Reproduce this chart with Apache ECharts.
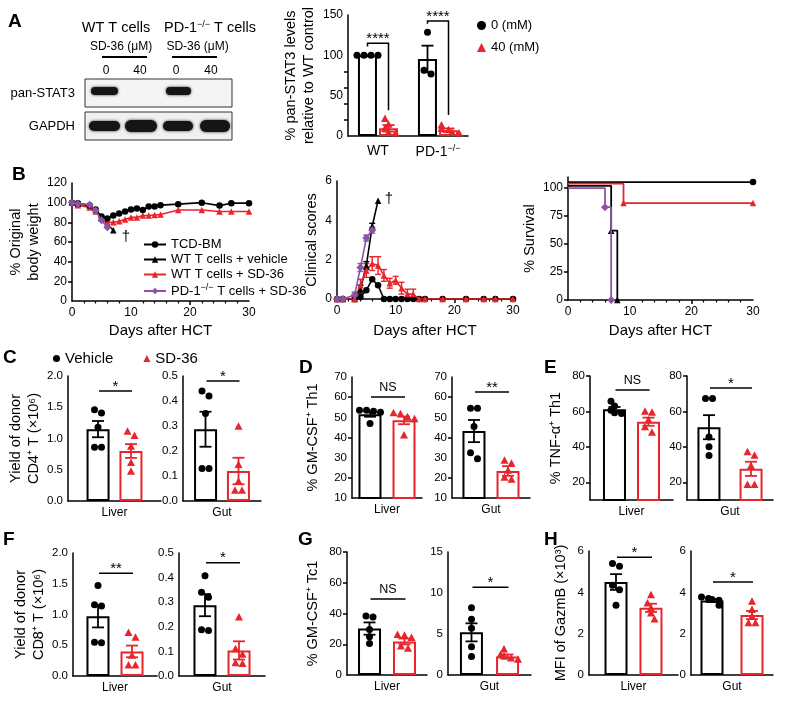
<!DOCTYPE html>
<html><head><meta charset="utf-8">
<script src="https://cdn.jsdelivr.net/npm/echarts@6/dist/echarts.min.js"></script>
<style>html,body{margin:0;padding:0;background:#fff}#c{width:787px;height:705px}</style>
</head><body><div id="c"></div>
<script>
// ================= DATA =================
// Panel A (bar chart)
const aCategories = ['WT', 'PD-1'];
const aMeans0 = [100, 95.5];
const aSems0 = [0, 16.5];
const aMeans40 = [9.5, 7.2];
const aSems40 = [4, 2.2];
const aPoints0 = [[100, 100, 100, 100], [128.5, 81.5, 77]];
const aPoints40 = [[21, 14, 9, 4, 3], [13, 9, 7, 4, 3]];
const aSig = [['****', 115, 111, 32], ['****', 142.5, 139, 26]]; // label, top, left end, right end
// Panel B
const bDays = [0, 1, 3, 4, 5, 6, 7, 8, 9, 10, 11, 12, 13, 14, 15, 18, 22, 25, 27, 30];
const bDaysVehicle = [0, 1, 3, 4, 5, 6, 7];
const bDaysPD1 = [0, 1, 3, 4, 5, 6];
const bWeightTCD = [100, 99.5, 97, 93, 86, 84, 87, 89, 91, 93, 94, 92.5, 96, 96, 97.5, 98.5, 100, 97, 99.5, 99.5];
const bWeightSD36 = [100, 97.5, 95, 91, 84, 80, 80, 81, 83, 85, 85, 87, 87, 87.5, 88, 92.5, 92.5, 91, 91, 91];
const bWeightVehicle = [100, 99, 97, 93, 85, 78, 72];
const bWeightPD1 = [100, 99, 98, 92, 82, 75];
const bScoreTCD = [0, 0, 0, 0.1, 0.45, 1.0, 0.7, 0, 0, 0, 0, 0, 0, 0, 0, 0, 0, 0, 0, 0];
const bScoreSD36 = [0, 0, 0, 0.7, 1.45, 1.8, 1.7, 1.2, 0.8, 0.95, 0.55, 0.25, 0.25, 0, 0, 0, 0, 0, 0, 0];
const bScoreSD36Sem = [0, 0, 0, 0.3, 0.35, 0.35, 0.45, 0.3, 0.25, 0.2, 0.3, 0.25, 0.25, 0, 0, 0, 0, 0, 0, 0];
const bScoreVehicle = [0, 0, 0, 0.5, 1.7, 3.7, 5.0];
const bScoreVehicleSem = [0, 0, 0, 0.2, 0.2, 0.15, 0];
const bScorePD1 = [0, 0, 0.2, 1.6, 3.1, 3.5];
const bScorePD1Sem = [0, 0, 0.15, 0.2, 0.15, 0.15];
const bSurvTCD = [[0, 105.5], [30, 105.5]];
const bSurvSD36 = [[0, 104], [9, 86.7], [30, 86.7]];
const bSurvVehicle = [[0, 102], [7, 62], [8, 0]];
const bSurvPD1 = [[0, 100], [6, 83], [7, 0]];
// Panels C-H: points [vehicle], [SD-36]; means; SEMs; significance [label, y]
const cLiverVehicle = [1.46, 1.41, 1.18, 0.86, 0.86];
const cLiverSD36 = [1.11, 1.04, 0.87, 0.61, 0.47];
const cLiverMeans = [1.15, 0.80];
const cLiverSems = [0.13, 0.11];
const cLiverSig = ['*', 1.76];
const cGutVehicle = [0.44, 0.42, 0.35, 0.13, 0.13];
const cGutSD36 = [0.297, 0.144, 0.077, 0.041, 0.041];
const cGutMeans = [0.287, 0.12];
const cGutSems = [0.07, 0.053];
const cGutSig = ['*', 0.48];
const dLiverVehicle = [53.5, 53.5, 53, 52.5, 47];
const dLiverSD36 = [52, 51.5, 50, 49, 41];
const dLiverMeans = [51.5, 48.5];
const dLiverSems = [1.2, 1.9];
const dLiverSig = ['NS', 60.1];
const dGutVehicle = [54.5, 54.5, 45.5, 32.5, 29.5];
const dGutSD36 = [28.5, 27, 23.5, 20, 19];
const dGutMeans = [43.2, 23.4];
const dGutSems = [5.5, 2.4];
const dGutSig = ['**', 62.6];
const eLiverVehicle = [65.8, 63, 60.7, 59.2, 58.8];
const eLiverSD36 = [59.8, 59.3, 55, 51, 48];
const eLiverMeans = [61.2, 54.2];
const eLiverSems = [1.3, 2.3];
const eLiverSig = ['NS', 72.1];
const eGutVehicle = [67.3, 67.3, 45.6, 40, 35.1];
const eGutSD36 = [37, 35, 29, 18.5, 18.5];
const eGutMeans = [51.1, 27.6];
const eGutSems = [6.8, 4];
const eGutSig = ['*', 73.2];
const fLiverVehicle = [1.47, 1.16, 1.14, 0.55, 0.54];
const fLiverSD36 = [0.7, 0.62, 0.33, 0.17, 0.17];
const fLiverMeans = [0.97, 0.40];
const fLiverSems = [0.18, 0.095];
const fLiverSig = ['**', 1.67];
const fGutVehicle = [0.408, 0.34, 0.32, 0.188, 0.185];
const fGutSD36 = [0.238, 0.109, 0.086, 0.052, 0.049];
const fGutMeans = [0.288, 0.104];
const fGutSems = [0.045, 0.037];
const fGutSig = ['*', 0.46];
const gLiverVehicle = [38.3, 37.8, 29.6, 24.9, 20.5];
const gLiverSD36 = [26, 25.5, 24, 18.5, 17];
const gLiverMeans = [30.2, 21.8];
const gLiverSems = [4, 1.9];
const gLiverSig = ['NS', 49.4];
const gGutVehicle = [8.2, 6.8, 5.7, 3.45, 2.25];
const gGutSD36 = [3.1, 2.45, 2.25, 2.0, 1.85];
const gGutMeans = [5.2, 2.25];
const gGutSems = [1.1, 0.25];
const gGutSig = ['*', 10.7];
const hLiverVehicle = [5.39, 5.26, 4.34, 4.13, 3.38];
const hLiverSD36 = [3.86, 3.46, 3.22, 2.98, 2.69];
const hLiverMeans = [4.5, 3.25];
const hLiverSems = [0.38, 0.2];
const hLiverSig = ['*', 5.7];
const hGutVehicle = [3.78, 3.7, 3.65, 3.62, 3.38];
const hGutSD36 = [3.54, 3.14, 2.82, 2.5, 2.5];
const hGutMeans = [3.6, 2.9];
const hGutSems = [0.07, 0.2];
const hGutSig = ['*', 4.5];

// ================= STYLE / LAYOUT =================
const FONT = '"Liberation Sans", Arial, Helvetica, sans-serif';
const RED = '#e8252c';
const PURPLE = '#8e52a4';
const SUP = {fontSize: 9, fontFamily: FONT, color: '#000', padding: [0, 0, 7, 0]};

function deep(a, b) {
  const o = Object.assign({}, a);
  for (const k in b) {
    const v = b[k];
    if (v && typeof v === 'object' && !Array.isArray(v) && a[k] && typeof a[k] === 'object' && !Array.isArray(a[k])) o[k] = deep(a[k], v);
    else o[k] = v;
  }
  return o;
}
const AX = {
  axisLine: {show: true, onZero: false, lineStyle: {color: '#000', width: 1.5}},
  axisTick: {show: true, inside: false, length: 4, lineStyle: {color: '#000', width: 1.5}},
  axisLabel: {color: '#000', fontSize: 12, fontFamily: FONT, margin: 5},
  splitLine: {show: false},
  nameTextStyle: {color: '#000', fontSize: 14.5, fontFamily: FONT, lineHeight: 18}
};

const grid = [], xAxis = [], yAxis = [], series = [];

function dotSeries(gi, data, sep) {
  return {
    type: 'custom', xAxisIndex: gi, yAxisIndex: gi, silent: true, z: 4, data,
    renderItem(params, api) {
      const i = params.dataIndex, d = data[i];
      const base = api.coord([d[0], d[1]]);
      const sib = [];
      data.forEach((e, j) => {
        if (e[0] === d[0] && e[2] === d[2] && Math.abs(api.coord([e[0], e[1]])[1] - base[1]) < 6.5) sib.push(j);
      });
      const r = sib.indexOf(i), n = sib.length;
      const x = base[0] + (d[2] ? 1 : -1) * sep / 2 + (r - (n - 1) / 2) * 7;
      const y = base[1];
      if (d[2] === 0) return {type: 'circle', shape: {cx: x, cy: y, r: 3.5}, style: {fill: '#000'}};
      return {type: 'polygon', shape: {points: [[x, y - 4.5], [x + 4, y + 3], [x - 4, y + 3]]}, style: {fill: RED}};
    }
  };
}
function errSeries(gi, data, sep) {
  return {
    type: 'custom', xAxisIndex: gi, yAxisIndex: gi, silent: true, z: 5, data,
    renderItem(params, api) {
      const c = api.value(0), m = api.value(1), s = api.value(2), g = api.value(3);
      const lo = api.coord([c, m - s]), hi = api.coord([c, m + s]);
      const x = lo[0] + (g ? 1 : -1) * sep / 2;
      const st = {stroke: g ? RED : '#000', lineWidth: 1.8};
      return {type: 'group', children: [
        {type: 'line', shape: {x1: x, y1: lo[1], x2: x, y2: hi[1]}, style: st},
        {type: 'line', shape: {x1: x - 6, y1: lo[1], x2: x + 6, y2: lo[1]}, style: st},
        {type: 'line', shape: {x1: x - 6, y1: hi[1], x2: x + 6, y2: hi[1]}, style: st}
      ]};
    }
  };
}

// ---- Panel A
(function () {
  const gi = grid.length, bw = 19, sep = 21;
  grid.push({left: 348, top: 15, width: 120, height: 121});
  xAxis.push(deep(AX, {type: 'category', gridIndex: gi, data: aCategories, axisTick: {show: false},
    axisLabel: {fontSize: 14, margin: 8, interval: 0, formatter: v => v === 'PD-1' ? 'PD-1{s|−/−}' : v, rich: {s: SUP}}}));
  yAxis.push(deep(AX, {type: 'value', gridIndex: gi, min: 0, max: 150, interval: 50,
    name: '% pan-STAT3 levels\nrelative to WT control', nameLocation: 'middle', nameRotate: 90, nameGap: 30}));
  const gap = Math.round((sep / bw - 1) * 100) + '%';
  series.push({type: 'bar', name: '0 (mM)', xAxisIndex: gi, yAxisIndex: gi, data: aMeans0, barWidth: bw, barGap: gap, silent: true, z: 2,
    itemStyle: {color: 'rgba(255,255,255,0)', borderColor: '#000', borderWidth: 2}});
  series.push({type: 'bar', name: '40 (mM)', xAxisIndex: gi, yAxisIndex: gi, data: aMeans40, barWidth: bw, silent: true, z: 2,
    itemStyle: {color: 'rgba(255,255,255,0)', borderColor: RED, borderWidth: 2}});
  const dots = [];
  aPoints0.forEach((arr, c) => arr.forEach(v => dots.push([c, v, 0])));
  aPoints40.forEach((arr, c) => arr.forEach(v => dots.push([c, v, 1])));
  series.push(dotSeries(gi, dots, sep));
  const errs = [];
  aMeans0.forEach((m, c) => errs.push([c, m, aSems0[c], 0]));
  aMeans40.forEach((m, c) => errs.push([c, m, aSems40[c], 1]));
  series.push(errSeries(gi, errs, sep));
  series.push({type: 'custom', xAxisIndex: gi, yAxisIndex: gi, silent: true, z: 6,
    data: aSig.map((s, c) => [c, s[1], s[2], s[3]]),
    renderItem(params, api) {
      const c = api.value(0);
      const top = api.coord([c, api.value(1)]), l = api.coord([c, api.value(2)]), r = api.coord([c, api.value(3)]);
      const x1 = top[0] - sep / 2, x2 = top[0] + sep / 2;
      return {type: 'group', children: [
        {type: 'polyline', shape: {points: [[x1, l[1]], [x1, top[1]], [x2, top[1]], [x2, r[1]]]}, style: {stroke: '#000', lineWidth: 1.5, fill: null}},
        {type: 'text', style: {text: aSig[params.dataIndex][0], x: top[0], y: top[1] + 3, align: 'center', verticalAlign: 'bottom', fontSize: 15, fontFamily: FONT, fill: '#000'}}
      ]};
    }});
})();

// ---- Panel B
function lineS(name, gi, xs, ys, color, symbol, extra) {
  return Object.assign({type: 'line', name, xAxisIndex: gi, yAxisIndex: gi, data: xs.map((x, i) => [x, ys[i]]),
    symbol, symbolSize: symbol === 'diamond' ? 8 : 6.5, showAllSymbol: true, silent: true,
    lineStyle: {color, width: 1.6}, itemStyle: {color}}, extra || {});
}
function lineErr(gi, xs, ms, ss, color) {
  const data = [];
  xs.forEach((x, i) => { if (ss[i] > 0) data.push([x, ms[i] - ss[i], ms[i] + ss[i]]); });
  return {type: 'custom', xAxisIndex: gi, yAxisIndex: gi, silent: true, z: 3, data,
    renderItem(params, api) {
      const lo = api.coord([api.value(0), api.value(1)]), hi = api.coord([api.value(0), api.value(2)]);
      const st = {stroke: color, lineWidth: 1.4};
      return {type: 'group', children: [
        {type: 'line', shape: {x1: lo[0], y1: lo[1], x2: hi[0], y2: hi[1]}, style: st},
        {type: 'line', shape: {x1: lo[0] - 3, y1: lo[1], x2: lo[0] + 3, y2: lo[1]}, style: st},
        {type: 'line', shape: {x1: hi[0] - 3, y1: hi[1], x2: hi[0] + 3, y2: hi[1]}, style: st}
      ]};
    }};
}
const N1 = 'TCD-BM', N2 = 'WT T cells + vehicle', N3 = 'WT T cells + SD-36', N4 = 'PD-1-/- T cells + SD-36';
function bX(gi, gap) {
  return deep(AX, {type: 'value', gridIndex: gi, min: 0, max: 30, interval: 10,
    minorTick: {show: true, splitNumber: 5, length: 2.5, lineStyle: {color: '#000', width: 1.2}},
    axisLabel: {margin: 6}, name: 'Days after HCT', nameLocation: 'middle', nameGap: gap,
    nameTextStyle: {fontSize: 15}});
}
(function () {
  // weight
  let gi = grid.length;
  grid.push({left: 72, top: 183, width: 177, height: 118});
  xAxis.push(bX(gi, 21));
  yAxis.push(deep(AX, {type: 'value', gridIndex: gi, min: 0, max: 120, interval: 20,
    name: '% Original\nbody weight', nameLocation: 'middle', nameRotate: 90, nameGap: 25}));
  series.push(lineS(N1, gi, bDays, bWeightTCD, '#000', 'circle', {z: 4}));
  series.push(lineS(N2, gi, bDaysVehicle, bWeightVehicle, '#000', 'triangle', {z: 3}));
  series.push(lineS(N3, gi, bDays, bWeightSD36, RED, 'triangle', {z: 3}));
  series.push(lineS(N4, gi, bDaysPD1, bWeightPD1, PURPLE, 'diamond', {z: 5}));
  // clinical scores
  gi = grid.length;
  grid.push({left: 337, top: 181, width: 176, height: 118});
  xAxis.push(bX(gi, 23));
  yAxis.push(deep(AX, {type: 'value', gridIndex: gi, min: 0, max: 6, interval: 2,
    name: 'Clinical scores', nameLocation: 'middle', nameRotate: 90, nameGap: 16}));
  series.push(lineS(N1, gi, bDays, bScoreTCD, '#000', 'circle', {z: 3}));
  series.push(lineS(N2, gi, bDaysVehicle, bScoreVehicle, '#000', 'triangle', {z: 4}));
  series.push(lineS(N3, gi, bDays, bScoreSD36, RED, 'triangle', {z: 4}));
  series.push(lineS(N4, gi, bDaysPD1, bScorePD1, PURPLE, 'diamond', {z: 5}));
  series.push(lineErr(gi, bDays, bScoreSD36, bScoreSD36Sem, RED));
  series.push(lineErr(gi, bDaysVehicle, bScoreVehicle, bScoreVehicleSem, '#000'));
  series.push(lineErr(gi, bDaysPD1, bScorePD1, bScorePD1Sem, PURPLE));
  // survival
  gi = grid.length;
  grid.push({left: 568, top: 177, width: 185, height: 123});
  xAxis.push(bX(gi, 22));
  yAxis.push(deep(AX, {type: 'value', gridIndex: gi, min: 0, max: 110,
    axisLabel: {customValues: [0, 25, 50, 75, 100]}, axisTick: {customValues: [0, 25, 50, 75, 100]},
    name: '% Survival', nameLocation: 'middle', nameRotate: 90, nameGap: 25}));
  const sym = s => (v, p) => p.dataIndex === 0 ? 'none' : s;
  const surv = (name, d, color, s, z) => ({type: 'line', name, xAxisIndex: gi, yAxisIndex: gi, data: d, step: 'end',
    symbol: sym(s), symbolSize: s === 'diamond' ? 8 : 6.5, showAllSymbol: true, silent: true, z,
    lineStyle: {color, width: 1.8}, itemStyle: {color}});
  series.push(surv(N1, bSurvTCD, '#000', 'circle', 3));
  series.push(surv(N3, bSurvSD36, RED, 'triangle', 3));
  series.push(surv(N2, bSurvVehicle, '#000', 'triangle', 4));
  series.push(surv(N4, bSurvPD1, PURPLE, 'diamond', 5));
})();

// ---- Panels C-H
const barLayouts = [
  {cat: 'Liver', left: 68, top: 376, width: 93, height: 125, min: 0, max: 2, interval: 0.5, dec: 1, sep: 33, name: 'Yield of donor\nCD4⁺ T (×10⁶)', nameGap: 22, veh: cLiverVehicle, sd: cLiverSD36, means: cLiverMeans, sems: cLiverSems, sig: cLiverSig},
  {cat: 'Gut', left: 183, top: 376, width: 78, height: 125, min: 0, max: 0.5, interval: 0.1, dec: 1, sep: 33, veh: cGutVehicle, sd: cGutSD36, means: cGutMeans, sems: cGutSems, sig: cGutSig},
  {cat: 'Liver', left: 352, top: 377, width: 70, height: 121, min: 10, max: 70, interval: 10, dec: 0, sep: 34, name: '% GM-CSF⁺ Th1', nameGap: 30, veh: dLiverVehicle, sd: dLiverSD36, means: dLiverMeans, sems: dLiverSems, sig: dLiverSig},
  {cat: 'Gut', left: 452, top: 377, width: 78, height: 121, min: 10, max: 70, interval: 10, dec: 0, sep: 34, veh: dGutVehicle, sd: dGutSD36, means: dGutMeans, sems: dGutSems, sig: dGutSig},
  {cat: 'Liver', left: 590, top: 376, width: 83, height: 124, min: 10, max: 80, ticks: [20, 40, 60, 80], dec: 0, sep: 34, name: '% TNF-α⁺ Th1', nameGap: 25, veh: eLiverVehicle, sd: eLiverSD36, means: eLiverMeans, sems: eLiverSems, sig: eLiverSig},
  {cat: 'Gut', left: 687, top: 376, width: 86, height: 124, min: 10, max: 80, ticks: [20, 40, 60, 80], dec: 0, sep: 42, veh: eGutVehicle, sd: eGutSD36, means: eGutMeans, sems: eGutSems, sig: eGutSig},
  {cat: 'Liver', left: 73, top: 553, width: 84, height: 123, min: 0, max: 2, interval: 0.5, dec: 1, sep: 34, name: 'Yield of donor\nCD8⁺ T (×10⁶)', nameGap: 25, veh: fLiverVehicle, sd: fLiverSD36, means: fLiverMeans, sems: fLiverSems, sig: fLiverSig},
  {cat: 'Gut', left: 179, top: 553, width: 86, height: 123, min: 0, max: 0.5, interval: 0.1, dec: 1, sep: 34, veh: fGutVehicle, sd: fGutSD36, means: fGutMeans, sems: fGutSems, sig: fGutSig},
  {cat: 'Liver', left: 347, top: 552, width: 80, height: 123, min: 0, max: 80, interval: 20, dec: 0, sep: 35, name: '% GM-CSF⁺ Tc1', nameGap: 25, veh: gLiverVehicle, sd: gLiverSD36, means: gLiverMeans, sems: gLiverSems, sig: gLiverSig},
  {cat: 'Gut', left: 448, top: 552, width: 83, height: 123, min: 0, max: 15, interval: 5, dec: 0, sep: 36, veh: gGutVehicle, sd: gGutSD36, means: gGutMeans, sems: gGutSems, sig: gGutSig},
  {cat: 'Liver', left: 589, top: 551, width: 89, height: 124, min: 0, max: 6, interval: 2, dec: 0, sep: 35, name: 'MFI of GazmB (×10³)', nameGap: 19, veh: hLiverVehicle, sd: hLiverSD36, means: hLiverMeans, sems: hLiverSems, sig: hLiverSig},
  {cat: 'Gut', left: 691, top: 551, width: 82, height: 124, min: 0, max: 6, interval: 2, dec: 0, sep: 40, veh: hGutVehicle, sd: hGutSD36, means: hGutMeans, sems: hGutSems, sig: hGutSig}
];
barLayouts.forEach(L => {
  const gi = grid.length, bw = 23;
  grid.push({left: L.left, top: L.top, width: L.width, height: L.height});
  xAxis.push(deep(AX, {type: 'category', gridIndex: gi, data: [L.cat], axisTick: {show: false}, axisLabel: {fontSize: 12, margin: 6, interval: 0}}));
  const y = deep(AX, {type: 'value', gridIndex: gi, min: L.min, max: L.max, axisLabel: {fontSize: 11.5, formatter: v => v.toFixed(L.dec)}});
  if (L.ticks) { y.axisLabel.customValues = L.ticks; y.axisTick.customValues = L.ticks; } else y.interval = L.interval;
  if (L.name) Object.assign(y, {name: L.name, nameLocation: 'middle', nameRotate: 90, nameGap: L.nameGap});
  yAxis.push(y);
  const gap = Math.round((L.sep / bw - 1) * 100) + '%';
  series.push({type: 'bar', name: 'Vehicle', xAxisIndex: gi, yAxisIndex: gi, data: [L.means[0]], barWidth: bw, barGap: gap, silent: true, z: 2,
    itemStyle: {color: 'rgba(255,255,255,0)', borderColor: '#000', borderWidth: 2}});
  series.push({type: 'bar', name: 'SD-36', xAxisIndex: gi, yAxisIndex: gi, data: [L.means[1]], barWidth: bw, silent: true, z: 2,
    itemStyle: {color: 'rgba(255,255,255,0)', borderColor: RED, borderWidth: 2}});
  series.push(dotSeries(gi, L.veh.map(v => [0, v, 0]).concat(L.sd.map(v => [0, v, 1])), L.sep));
  series.push(errSeries(gi, [[0, L.means[0], L.sems[0], 0], [0, L.means[1], L.sems[1], 1]], L.sep));
  series.push({type: 'custom', xAxisIndex: gi, yAxisIndex: gi, silent: true, z: 6, data: [[0, L.sig[1]]],
    renderItem(params, api) {
      const p = api.coord([0, api.value(1)]);
      const x1 = p[0] - L.sep / 2 + 1, x2 = p[0] + L.sep / 2 + 1;
      const ns = L.sig[0] === 'NS';
      return {type: 'group', children: [
        {type: 'line', shape: {x1, y1: p[1], x2, y2: p[1]}, style: {stroke: '#000', lineWidth: 1.5}},
        {type: 'text', style: {text: L.sig[0], x: (x1 + x2) / 2, y: p[1] - (ns ? 3 : -3), align: 'center', verticalAlign: 'bottom',
          fontSize: ns ? 12.5 : 15, fontFamily: FONT, fill: '#000'}}
      ]};
    }});
});

// ---- Graphic: panel letters, blot, daggers
const letter = (t, x, y) => ({type: 'text', x, y, style: {text: t, fontSize: 19, fontWeight: 'bold', fontFamily: FONT, fill: '#000'}, silent: true});
const txt = (t, x, y, size, align, extra) => ({type: 'text', x, y, silent: true,
  style: Object.assign({text: t, fontSize: size, fontFamily: FONT, fill: '#000', align: align || 'center', verticalAlign: 'middle', rich: {s: SUP}}, extra || {})});
const band = (x, y, w, h) => ({type: 'rect', silent: true, shape: {x, y, width: w, height: h, r: h / 2},
  style: {fill: '#151515', shadowBlur: 3, shadowColor: 'rgba(0,0,0,0.8)'}});
const graphic = [
  letter('A', 8, 12), letter('B', 12, 165), letter('C', 3, 348), letter('D', 299, 358), letter('E', 544, 358),
  letter('F', 3, 530), letter('G', 298, 530), letter('H', 544, 530),
  txt('WT T cells', 116, 28, 14.5), txt('PD-1{s|−/−} T cells', 210, 28, 14.5),
  txt('SD-36 (μM)', 121, 47, 12), txt('SD-36 (μM)', 197.5, 47, 12),
  {type: 'line', silent: true, shape: {x1: 102, y1: 57, x2: 147, y2: 57}, style: {stroke: '#000', lineWidth: 2}},
  {type: 'line', silent: true, shape: {x1: 172, y1: 57, x2: 217, y2: 57}, style: {stroke: '#000', lineWidth: 2}},
  txt('0', 106, 71, 12), txt('40', 140, 71, 12), txt('0', 176, 71, 12), txt('40', 211, 71, 12),
  txt('pan-STAT3', 75, 93, 13, 'right'), txt('GAPDH', 75, 126, 13, 'right'),
  {type: 'rect', silent: true, shape: {x: 85, y: 79, width: 147, height: 28}, style: {fill: '#f4f4f4', stroke: '#333', lineWidth: 1}},
  {type: 'rect', silent: true, shape: {x: 85, y: 112, width: 147, height: 28}, style: {fill: '#f0f0f0', stroke: '#333', lineWidth: 1}},
  band(91, 87, 27, 8), band(166, 87, 25, 8),
  band(89, 121, 31, 10), band(125, 120, 32, 12), band(163, 121, 30, 10), band(200, 120, 30, 12),
  txt('†', 126, 237, 15), txt('†', 389, 199, 15)
];

const option = {
  animation: false,
  backgroundColor: '#fff',
  textStyle: {fontFamily: FONT},
  grid, xAxis, yAxis, series, graphic,
  legend: [
    {left: 472, top: 14, orient: 'vertical', itemGap: 9, itemWidth: 9, itemHeight: 9, selectedMode: false,
      textStyle: {fontSize: 13, fontFamily: FONT, color: '#000'},
      data: [{name: '0 (mM)', icon: 'circle', itemStyle: {color: '#000', borderWidth: 0}},
             {name: '40 (mM)', icon: 'triangle', itemStyle: {color: RED, borderWidth: 0}}]},
    {left: 138, top: 233, orient: 'vertical', itemGap: 2, itemWidth: 22, itemHeight: 8, selectedMode: false,
      textStyle: {fontSize: 13, fontFamily: FONT, color: '#000', rich: {s: SUP}},
      formatter: n => n.replace('-/-', '{s|−/−}'),
      data: [N1, N2, N3, N4]},
    {left: 48, top: 346, orient: 'horizontal', itemGap: 30, itemWidth: 7, itemHeight: 7, selectedMode: false,
      textStyle: {fontSize: 15, fontFamily: FONT, color: '#000'},
      data: [{name: 'Vehicle', icon: 'circle', itemStyle: {color: '#000', borderWidth: 0}},
             {name: 'SD-36', icon: 'triangle', itemStyle: {color: RED, borderWidth: 0}}]}
  ]
};
const chart = echarts.init(document.getElementById('c'));
chart.setOption(option);
</script></body></html>
